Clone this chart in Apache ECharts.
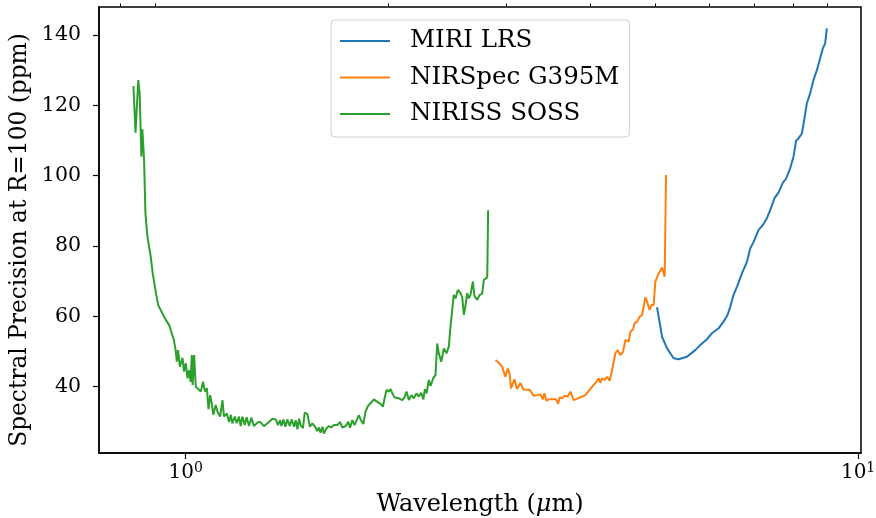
<!DOCTYPE html>
<html>
<head>
<meta charset="utf-8">
<script src="https://cdn.jsdelivr.net/npm/echarts@6/dist/echarts.min.js"></script>
<style>
html,body{margin:0;padding:0;background:#fff;}
#chart{width:876px;height:518px;}
</style>
</head>
<body>
<div id="chart"></div>
<script>
// ---- data (wavelength in micron, precision in ppm) ----
const miriWave = [5.023,5.110,5.198,5.317,5.408,5.565,5.725,5.858,5.959,6.062,6.201,6.308,6.395,6.454,6.527,6.604,6.718,6.834,6.911,6.990,7.110,7.218,7.318,7.401,7.511,7.614,7.730,7.818,7.925,8.015,8.089,8.153,8.249,8.314,8.391,8.486,8.583,8.683,8.781,8.863,8.933,8.985];
const miriPpm  = [62.6,54.2,50.9,48.1,47.8,48.5,50.4,52.3,53.5,55.2,56.6,58.5,60.4,62.7,66.1,68.4,72.2,75.5,79.3,81.1,84.5,86.0,87.9,90.2,93.6,95.2,98.0,99.2,102.1,105.4,110.0,110.6,112.0,115.8,120.6,123.4,127.2,130.0,133.4,136.2,137.6,141.9];

const nirspecWave = [2.888,2.911,2.931,2.955,2.988,3.012,3.030,3.047,3.082,3.111,3.146,3.175,3.211,3.248,3.293,3.331,3.369,3.396,3.415,3.439,3.466,3.519,3.555,3.579,3.599,3.629,3.657,3.699,3.733,3.755,3.776,3.828,3.886,3.930,3.988,4.043,4.081,4.113,4.137,4.161,4.194,4.233,4.271,4.306,4.355,4.389,4.430,4.471,4.507,4.533,4.558,4.584,4.627,4.648,4.691,4.733,4.772,4.798,4.826,4.854,4.897,4.926,4.965,4.994,5.023,5.051,5.080,5.110,5.138,5.156,5.180];
const nirspecPpm  = [47.6,47.1,47.6,45.7,42.8,45.2,43.8,39.5,42.1,39.3,41.1,39.3,39.1,39.1,37.4,37.6,37.9,36.4,38.1,36.0,36.4,36.4,36.4,35.1,37.0,36.7,37.4,37.2,38.6,38.3,36.2,36.7,37.2,37.6,39.1,40.5,41.4,42.4,41.1,42.4,41.9,42.8,41.7,44.7,49.5,50.4,49.0,49.9,53.3,53.8,52.8,55.6,56.3,58.0,58.5,59.9,60.4,60.1,65.4,64.2,61.8,63.2,63.2,69.9,70.1,72.2,72.4,73.9,73.6,71.3,100.2];

const nirissWave = [0.836,0.842,0.850,0.854,0.859,0.862,0.867,0.871,0.877,0.887,0.893,0.903,0.910,0.923,0.934,0.945,0.950,0.960,0.966,0.970,0.974,0.980,0.989,0.994,1.000,1.006,1.011,1.017,1.021,1.024,1.029,1.035,1.041,1.053,1.061,1.068,1.075,1.081,1.087,1.093,1.099,1.108,1.115,1.125,1.134,1.140,1.151,1.160,1.167,1.173,1.183,1.191,1.200,1.207,1.214,1.224,1.232,1.242,1.252,1.263,1.278,1.290,1.307,1.323,1.346,1.361,1.372,1.381,1.388,1.397,1.407,1.416,1.428,1.437,1.449,1.457,1.466,1.474,1.482,1.494,1.503,1.517,1.530,1.543,1.557,1.569,1.578,1.587,1.597,1.605,1.620,1.633,1.646,1.661,1.681,1.696,1.710,1.729,1.745,1.755,1.769,1.783,1.800,1.809,1.824,1.837,1.851,1.866,1.883,1.905,1.927,1.949,1.964,1.976,1.989,2.005,2.017,2.029,2.045,2.075,2.099,2.116,2.130,2.147,2.165,2.184,2.204,2.222,2.240,2.256,2.268,2.281,2.299,2.313,2.334,2.352,2.366,2.379,2.399,2.420,2.443,2.462,2.476,2.504,2.519,2.539,2.563,2.578,2.592,2.607,2.622,2.636,2.652,2.673,2.688,2.713,2.737,2.760,2.775,2.791,2.808,2.817];
const nirissPpm  = [125.5,112.2,127.2,123.4,105.4,113.2,104.5,89.4,82.7,77.0,72.3,66.6,63.2,60.9,59.0,57.5,56.1,53.3,50.4,47.1,50.4,45.7,48.2,44.3,46.7,42.4,44.7,41.4,49.0,40.5,49.0,40.0,39.5,38.6,41.4,38.6,39.6,33.6,37.6,35.3,32.0,34.8,32.9,31.5,36.2,31.5,32.4,30.0,32.0,29.6,31.5,29.6,31.5,28.8,31.5,29.1,31.3,28.8,31.2,28.8,29.8,30.0,28.8,29.6,30.9,30.7,29.1,30.5,28.8,30.7,28.6,30.7,28.8,30.7,28.6,30.5,27.9,30.9,29.1,28.2,32.6,32.2,28.6,29.6,28.6,27.4,28.4,26.9,28.6,26.7,28.2,28.8,28.4,29.1,29.1,30.0,28.4,28.8,30.0,28.3,30.5,29.1,30.9,31.9,30.3,29.4,32.9,34.5,35.3,36.4,35.7,35.1,34.3,36.7,39.1,38.6,39.3,38.1,36.9,36.7,36.2,37.0,38.6,36.2,37.6,36.7,38.1,37.2,38.3,36.4,39.3,38.1,41.9,40.2,42.4,43.3,52.3,49.5,47.1,50.9,49.5,51.4,57.1,66.1,65.1,67.5,66.6,65.4,60.4,63.2,66.6,65.1,66.1,69.9,65.8,64.7,66.1,66.4,70.3,69.9,71.1,90.2];

const seriesNames = ['MIRI LRS','NIRSpec G395M','NIRISS SOSS'];
const xMajorTicks = [1, 10];
const xMinorTicks = [0.8, 0.9, 2, 3, 4, 5, 6, 7, 8, 9];
const yTicks = [40, 60, 80, 100, 120, 140];

function zip(a, b){ return a.map((v, i) => [v, b[i]]); }

const FONT = '"DejaVu Serif", serif';
const chart = echarts.init(document.getElementById('chart'), null, {renderer:'canvas'});

const baseX = {
  type: 'log', logBase: 10, min: 0.743, max: 10.1,
  gridIndex: 0
};

chart.setOption({
  animation: false,
  backgroundColor: '#fff',
  grid: {left: 99, right: 15, top: 7, bottom: 65, show: true, borderColor: '#000', borderWidth: 1.5, backgroundColor: 'transparent', containLabel: false, outerBoundsMode: 'none'},
  legend: {
    data: seriesNames,
    orient: 'vertical',
    left: 331, top: 20,
    padding: [7, 10, 9, 9],
    itemGap: 8.5,
    itemWidth: 50, itemHeight: 2,
    icon: 'rect',
    borderColor: '#d0d0d0', borderWidth: 1, borderRadius: 4,
    backgroundColor: 'rgba(255,255,255,0.8)',
    textStyle: {fontFamily: FONT, fontSize: 24.5, color: '#000', lineHeight: 28, padding: [0,0,0,15]}
  },
  xAxis: [
    Object.assign({}, baseX, {
      name: 'Wavelength ({i|μ}m)', nameLocation: 'middle', nameGap: 40,
      nameTextStyle: {fontFamily: FONT, fontSize: 24, color: '#000',
        rich: {i: {fontFamily: FONT, fontSize: 24, fontStyle: 'italic', color: '#000'}}},
      axisLine: {show: true, lineStyle: {color: '#000', width: 1.5}},
      axisTick: {show: true, length: 6, lineStyle: {color: '#000', width: 1.2}, customValues: xMajorTicks},
      axisLabel: {
        customValues: xMajorTicks, margin: 8, color: '#000',
        fontFamily: FONT, fontSize: 20,
        formatter: v => '10{s|' + Math.round(Math.log10(v)) + '}',
        rich: {s: {fontFamily: FONT, fontSize: 14, verticalAlign: 'top', padding: [0,0,10,0], color:'#000'}}
      },
      splitLine: {show: false}, minorTick: {show: false}
    }),
    Object.assign({}, baseX, {
      axisLine: {show: false},
      axisTick: {show: true, length: 3.5, lineStyle: {color: '#000', width: 1}, customValues: xMinorTicks},
      axisLabel: {show: false},
      splitLine: {show: false}
    })
  ],
  yAxis: {
    type: 'value', min: 21.15, max: 147.96,
    name: 'Spectral Precision at R=100 (ppm)', nameLocation: 'middle', nameGap: 49,
    nameTextStyle: {fontFamily: FONT, fontSize: 23.3, color: '#000', padding: [0, 20, 0, 0]},
    axisLine: {show: true, lineStyle: {color: '#000', width: 1.5}},
    axisTick: {show: true, length: 6, lineStyle: {color: '#000', width: 1.2}, customValues: yTicks},
    axisLabel: {customValues: yTicks, margin: 18, color: '#000', fontFamily: FONT, fontSize: 20.5},
    splitLine: {show: false}
  },
  series: [
    {name: seriesNames[0], type: 'line', data: zip(miriWave, miriPpm), showSymbol: false, symbol: 'none', lineStyle: {width: 2, color: '#1f77b4'}, itemStyle: {color: '#1f77b4'}},
    {name: seriesNames[1], type: 'line', data: zip(nirspecWave, nirspecPpm), showSymbol: false, symbol: 'none', lineStyle: {width: 2, color: '#ff7f0e'}, itemStyle: {color: '#ff7f0e'}},
    {name: seriesNames[2], type: 'line', data: zip(nirissWave, nirissPpm), showSymbol: false, symbol: 'none', lineStyle: {width: 2, color: '#2ca02c'}, itemStyle: {color: '#2ca02c'}}
  ]
});
</script>
</body>
</html>
